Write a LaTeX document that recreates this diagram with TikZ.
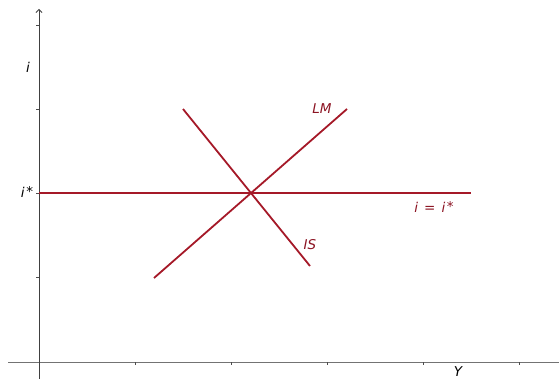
\documentclass[tikz,border=0pt]{standalone}
\usepackage{fontspec}
\setmainfont{DejaVu Sans}
\usetikzlibrary{arrows.meta}
\definecolor{curvered}{RGB}{165,25,40}
\definecolor{labelred}{RGB}{140,20,35}
\newcommand{\upstar}{\hspace{1.5pt}\raisebox{1.5pt}{*}}
\tikzset{
  curve/.style={draw=curvered, line width=1.8pt},
  axisline/.style={draw=black!75, line width=0.8pt},
  tick/.style={draw=black!70, line width=0.6pt},
  lab/.style={font=\fontsize{13.5}{13.5}\selectfont\itshape, inner sep=0pt},
  redlab/.style={lab, text=labelred}
}
\begin{document}
\begin{tikzpicture}[x=1pt,y=-1pt]
\useasboundingbox (0,0) rectangle (559,379);
% axes
\coordinate (xa) at (8,362);
\coordinate (xb) at (559,362);
\coordinate (ya) at (39,379);
\coordinate (yb) at (39,9);
\draw[draw=black!55, line width=1pt] (xa) -- (xb);
\draw[axisline, -{Straight Barb[length=3pt,width=6pt]}] (ya) -- (yb);
% ticks
\foreach \y in {25,109,193,277} \draw[tick] (36,\y) -- (39,\y);
\foreach \x in {135,231,327,423,519} \draw[tick] (\x,362) -- (\x,365);
% curves
\coordinate (h1) at (39,193);
\coordinate (h2) at (471,193);
\coordinate (lm1) at (154,278);
\coordinate (lm2) at (347,109);
\coordinate (is1) at (183,109);
\coordinate (is2) at (310,266);
\draw[curve] (h1) -- (h2);
\draw[curve] (lm1) -- (lm2);
\draw[curve] (is1) -- (is2);
% labels
\node[lab] (il) at (28,67) {i};
\node[lab] (istar) at (27,192) {i\upstar};
\node[lab] (yl) at (458,372) {Y};
\node[redlab] (lml) at (322,109) {LM};
\node[redlab] (isl) at (310,245) {IS};
\node[redlab] (eql) at (434,207) {i\hspace{6pt}=\hspace{6pt}i\upstar};
\end{tikzpicture}
\end{document}
